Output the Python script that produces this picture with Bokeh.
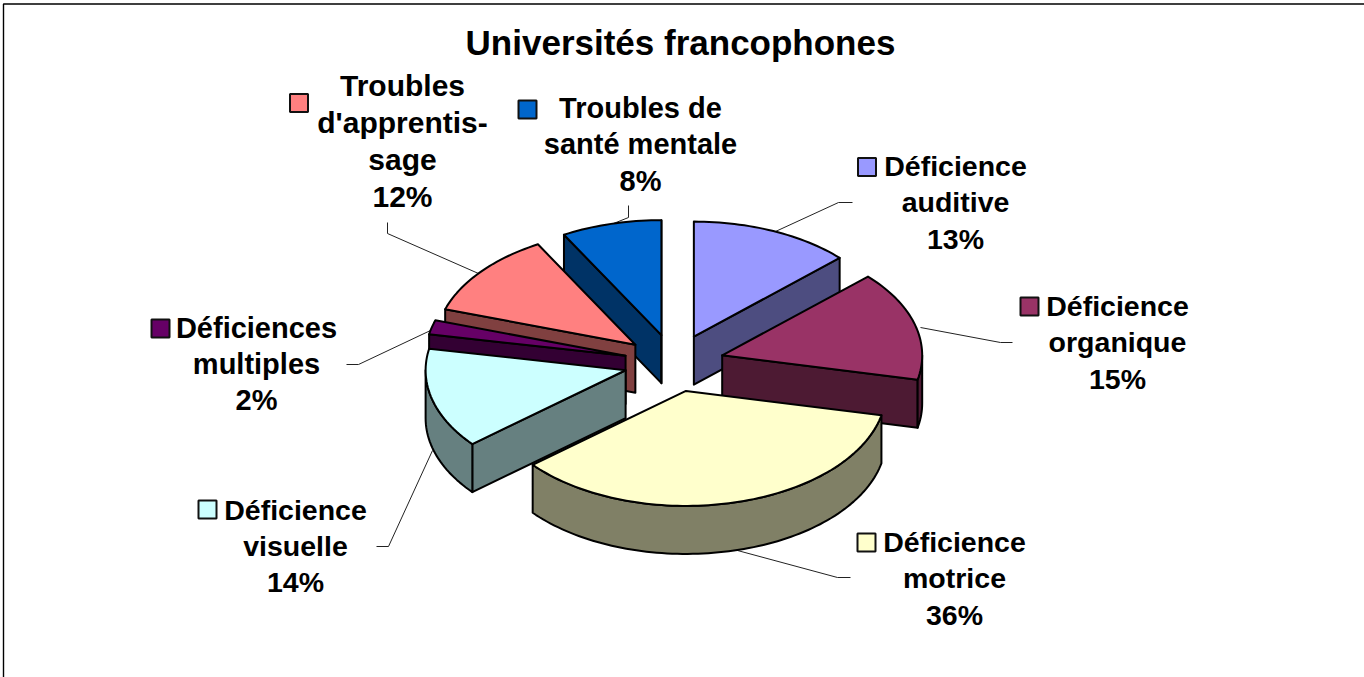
import math
from bokeh.plotting import figure
from bokeh.models import Range1d
from bokeh.core.properties import value
from bokeh.embed import file_html
from bokeh.resources import INLINE

# ---- data (clockwise from 12 o'clock); labels show them rounded
categories = ["Déficience auditive", "Déficience organique", "Déficience motrice",
              "Déficience visuelle", "Déficiences multiples",
              "Troubles d'apprentissage", "Troubles de santé mentale"]
values = [13.0, 15.4, 35.5, 14.1, 2.0, 11.9, 8.1]
title_text = "Universités francophones"
label_lines = [["Déficience", "auditive"], ["Déficience", "organique"], ["Déficience", "motrice"],
               ["Déficience", "visuelle"], ["Déficiences", "multiples"],
               ["Troubles", "d'apprentis-", "sage"], ["Troubles de", "santé mentale"]]

# ---- styles
top_colors = ["#9999FF", "#993366", "#FFFFCC", "#CCFFFF", "#660066", "#FF8080", "#0066CC"]
side_colors = ["#4D4D80", "#4D1A33", "#808066", "#668080", "#330033", "#804040", "#003366"]

# ---- layout (page pixels)
W, H = 1364, 677
CX, CY, RX, RY, DEPTH, EXPLODE = 673.5, 362.5, 200, 115, 48, 0.25
paint_order = [6, 0, 5, 4, 3, 1, 2]
label_centres = [(955, 165), (1117, 305), (954, 541), (295, 509), (256, 327), (402, 85), (640, 107)]
line_steps = [36.5, 36.5, 36.5, 36, 36, 37, 36.5]
label_sizes = ["28.5px", "28.5px", "28.5px", "28.5px", "29px", "30px", "29px"]
key_centres = [(866.5, 166.5), (1029, 306), (866, 542), (207, 509), (160, 328), (298.5, 102.5), (527, 109)]
KEY = 18
leaders = [
    [(775, 231), (838, 202), (852, 202)],
    [(920, 327), (1000, 342), (1012, 342)],
    [(737, 550), (837, 577), (850, 577)],
    [(432, 450), (388, 546), (376, 546)],
    [(430, 330), (358, 364), (346, 364)],
    [(478, 273), (387, 233), (387, 222)],
    [(613, 223), (628, 217), (628, 205)],
]

p = figure(width=W, height=H, x_range=Range1d(0, W), y_range=Range1d(H, 0),
           output_backend="svg", toolbar_location=None, min_border=0,
           outline_line_color=None, background_fill_color="white", border_fill_color="white")
p.axis.visible = False
p.grid.visible = False

# chart frame (top and left edges only are visible in the picture)
p.line([3, 3, W], [H, 3.5, 3.5], line_color="black", line_width=1.4)

# leader lines
for pts in leaders:
    p.line([a for a, _ in pts], [b for _, b in pts], line_color="#222222", line_width=1)


def rim_point(apex, deg):
    t = math.radians(deg)
    return apex[0] + RX * math.sin(t), apex[1] - RY * math.cos(t)


def arc(apex, a, b):
    n = max(2, int(abs(b - a) / 1.5) + 2)
    return [rim_point(apex, a + (b - a) * i / (n - 1)) for i in range(n)]


# slice geometry from the values
total = sum(values)
starts, ends, acc = [], [], 0.0
for v in values:
    starts.append(acc)
    acc += 360.0 * v / total
    ends.append(acc)

xs, ys, fills = [], [], []


def add(poly, colour):
    xs.append([q[0] for q in poly])
    ys.append([q[1] for q in poly])
    fills.append(colour)


for i in paint_order:
    a, b = starts[i], ends[i]
    mid = math.radians((a + b) / 2)
    apex = (CX + EXPLODE * RX * math.sin(mid), CY - EXPLODE * RY * math.cos(mid))
    down = lambda q: (q[0], q[1] + DEPTH)
    # radial walls facing the viewer
    if math.sin(math.radians(a)) < 0:
        r = rim_point(apex, a)
        add([apex, r, down(r), down(apex)], side_colors[i])
    if math.sin(math.radians(b)) > 0:
        r = rim_point(apex, b)
        add([apex, r, down(r), down(apex)], side_colors[i])
    # curved wall facing the viewer
    lo, hi = max(a, 90), min(b, 270)
    if hi > lo:
        rim = arc(apex, lo, hi)
        add(rim + [down(q) for q in reversed(rim)], side_colors[i])
    # top face
    add([apex] + arc(apex, a, b), top_colors[i])

p.patches(xs, ys, fill_color=fills, line_color="black", line_width=2, line_join="round")

# legend keys inside the labels
p.rect([c[0] for c in key_centres], [c[1] for c in key_centres], width=KEY, height=KEY,
       fill_color=top_colors, line_color="#111111", line_width=2)

# label texts
for i, lines in enumerate(label_lines):
    all_lines = lines + [f"{round(values[i])}%"]
    p.text([label_centres[i][0]] * len(all_lines),
           [label_centres[i][1] + j * line_steps[i] for j in range(len(all_lines))],
           text=all_lines, text_font=value("Liberation Sans"), text_font_style="bold",
           text_font_size=label_sizes[i], text_align="center", text_baseline="middle",
           text_color="black")
p.text([680], [42], text=[title_text], text_font=value("Liberation Sans"), text_font_style="bold",
       text_font_size="35px", text_align="center", text_baseline="middle", text_color="black")

html = file_html(p, INLINE, title="Universités francophones")
html = html.replace("<body>", '<body style="margin:0;overflow:hidden">', 1)
open("out.html", "w", encoding="utf-8").write(html)
